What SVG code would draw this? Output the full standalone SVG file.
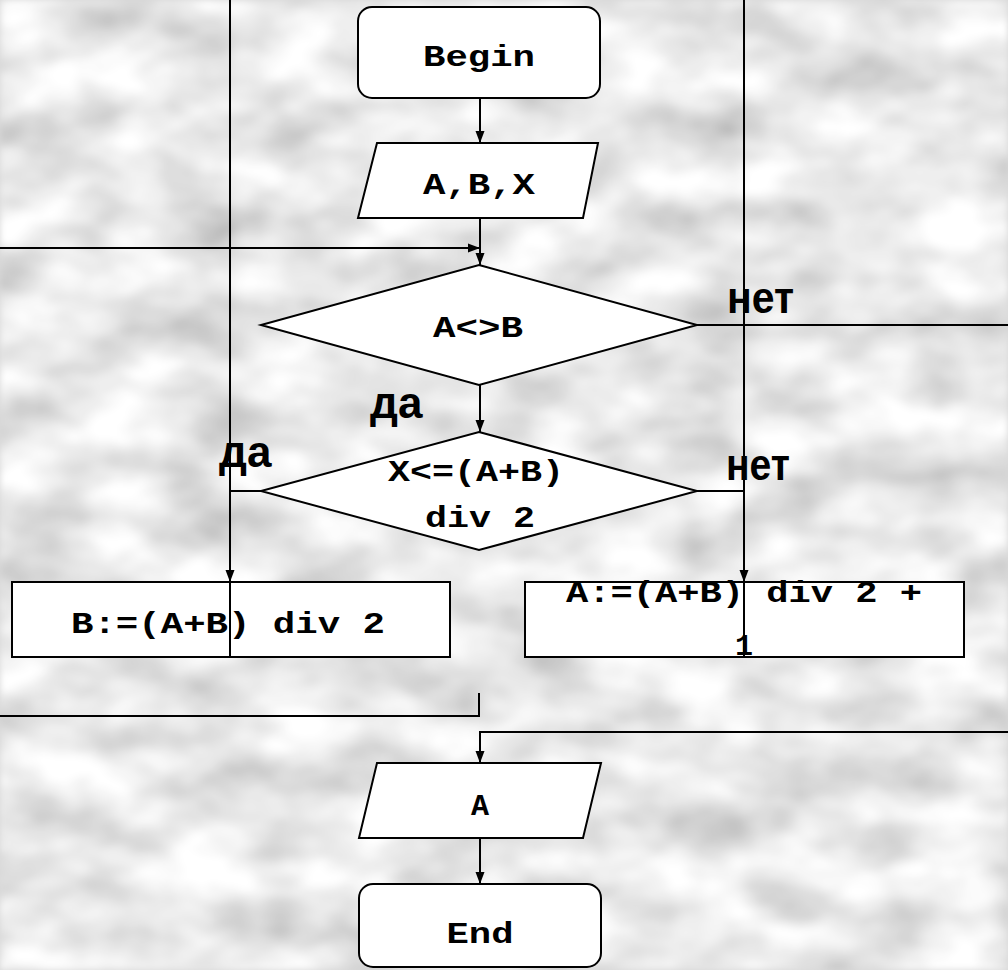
<svg xmlns="http://www.w3.org/2000/svg" width="1008" height="970" viewBox="0 0 1008 970">
<defs>
<filter id="marble" x="0" y="0" width="1008" height="970" filterUnits="userSpaceOnUse">
<feTurbulence type="fractalNoise" baseFrequency="0.012 0.02" numOctaves="3" seed="11"/>
<feColorMatrix type="matrix" values="0.75 0 0 0 0.44  0.75 0 0 0 0.44  0.75 0 0 0 0.44  0 0 0 0 1"/>
<feGaussianBlur stdDeviation="3"/>
</filter>
<marker id="arr" markerUnits="userSpaceOnUse" markerWidth="12" markerHeight="10" refX="12" refY="5" orient="auto" viewBox="0 0 12 10">
<path d="M0,0.5 L12,5 L0,9.5 z" fill="#000"/>
</marker>
</defs>
<style>
.shape{fill:#fff;stroke:#000;stroke-width:2}
.code{font-family:"Liberation Mono","Courier New",monospace;font-weight:bold;font-size:30px;fill:#000;text-anchor:middle}
.lbl{font-family:"Liberation Sans",Arial,sans-serif;font-weight:bold;font-size:44px;fill:#000}
.ln{fill:none;stroke:#000;stroke-width:2}
</style>
<rect x="0" y="0" width="1008" height="970" fill="#d8d8d8"/>
<rect x="0" y="0" width="1008" height="970" filter="url(#marble)"/>

<g id="begin">
<rect class="shape" x="358" y="7" width="242" height="91" rx="14"/>
<text class="code" x="479" y="66" textLength="112" lengthAdjust="spacingAndGlyphs">Begin</text>
</g>
<g id="input">
<polygon class="shape" points="377,143 598,143 583,218 358,218"/>
<text class="code" x="479" y="194" textLength="112" lengthAdjust="spacingAndGlyphs">A,B,X</text>
</g>
<g id="cond1">
<polygon class="shape" points="479,265 697,325 479,385 261,325"/>
<text class="code" x="478" y="337" textLength="90" lengthAdjust="spacingAndGlyphs">A&lt;&gt;B</text>
</g>
<g id="cond2">
<polygon class="shape" points="479,432 697,491 479,550 261,491"/>
<text class="code" x="476" y="481" textLength="176" lengthAdjust="spacingAndGlyphs">X&lt;=(A+B)</text>
<text class="code" x="480" y="527" textLength="110" lengthAdjust="spacingAndGlyphs">div 2</text>
</g>
<g id="assignB">
<rect class="shape" x="12" y="582" width="438" height="75"/>
<text class="code" x="228" y="633" textLength="314" lengthAdjust="spacingAndGlyphs">B:=(A+B) div 2</text>
</g>
<g id="assignA">
<rect class="shape" x="525" y="582" width="439" height="75"/>
<text class="code" x="744" y="602" textLength="356" lengthAdjust="spacingAndGlyphs">A:=(A+B) div 2 +</text>
<text class="code" x="744" y="655">1</text>
</g>
<g id="output">
<polygon class="shape" points="377,763 601,763 583,838 359,838"/>
<text class="code" x="480" y="815">A</text>
</g>
<g id="end">
<rect class="shape" x="359" y="884" width="242" height="83" rx="14"/>
<text class="code" x="480" y="943" textLength="67" lengthAdjust="spacingAndGlyphs">End</text>
</g>

<g id="connectors">
<line class="ln" x1="480" y1="98" x2="480" y2="143" marker-end="url(#arr)"/>
<line class="ln" x1="480" y1="218" x2="480" y2="265" marker-end="url(#arr)"/>
<line class="ln" x1="0" y1="248" x2="480" y2="248" marker-end="url(#arr)"/>
<line class="ln" x1="480" y1="385" x2="480" y2="432" marker-end="url(#arr)"/>
<line class="ln" x1="697" y1="325" x2="1008" y2="325"/>
<polyline class="ln" points="261,491 230,491"/>
<polyline class="ln" points="697,491 744,491"/>
<line class="ln" x1="230" y1="0" x2="230" y2="582" marker-end="url(#arr)"/>
<line class="ln" x1="230" y1="582" x2="230" y2="657"/>
<line class="ln" x1="744" y1="0" x2="744" y2="582" marker-end="url(#arr)"/>
<line class="ln" x1="744" y1="582" x2="744" y2="657"/>
<polyline class="ln" points="0,716 479,716 479,693"/>
<polyline class="ln" points="1008,732 480,732 480,763" marker-end="url(#arr)"/>
<line class="ln" x1="480" y1="838" x2="480" y2="884" marker-end="url(#arr)"/>
</g>

<g id="labels">
<text class="lbl" x="727" y="313" textLength="67" lengthAdjust="spacingAndGlyphs">нет</text>
<text class="lbl" x="726" y="480" textLength="64" lengthAdjust="spacingAndGlyphs">нет</text>
<text class="lbl" x="370" y="418">да</text>
<text class="lbl" x="219" y="467">да</text>
</g>
</svg>
